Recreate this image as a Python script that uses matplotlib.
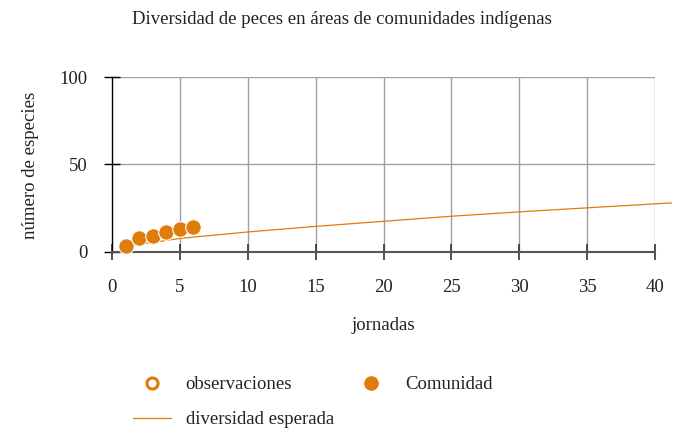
import matplotlib
matplotlib.use("Agg")
import matplotlib.pyplot as plt
from matplotlib.lines import Line2D

# Data
jornadas = [1, 2, 3, 4, 5, 6]
especies = [3, 8, 9, 11, 13, 14]
curva_x = [1, 5, 10, 15, 20, 25, 30, 35, 40, 41.2]
curva_y = [3.0, 7.6, 11.3, 14.5, 17.4, 20.3, 22.8, 25.1, 27.4, 27.9]
xticks = [0, 5, 10, 15, 20, 25, 30, 35, 40]
yticks = [0, 50, 100]

ORANGE = '#E07C0C'
plt.rcParams['font.family'] = ['Liberation Serif', 'DejaVu Serif']
FS = 13.5

fig = plt.figure(figsize=(6.9, 4.3), dpi=100)
ax = fig.add_axes([112/690, 1-251.7/430, (655-112)/690, (251.7-77)/430])
ax.set_xlim(0, 40)
ax.set_ylim(0, 100)

for s in ['top', 'right']:
    ax.spines[s].set_visible(False)
ax.spines['left'].set_color('black')
ax.spines['left'].set_linewidth(1.0)
ax.spines['bottom'].set_color('#555555')
ax.spines['bottom'].set_linewidth(1.5)

ax.set_xticks(xticks)
ax.set_yticks(yticks)
ax.tick_params(axis='x', direction='inout', length=11.5, width=1.2, color='#333333',
               labelsize=FS, pad=14, labelcolor='#222222')
ax.tick_params(axis='y', direction='inout', length=11.5, width=1.0, color='black',
               labelsize=FS, pad=12, labelcolor='#222222')

for x in xticks[1:]:
    ax.axvline(x, color='#a0a0a0', lw=1.0, zorder=0.5)
for y in yticks[1:]:
    ax.axhline(y, color='#a0a0a0', lw=1.0, zorder=0.5)

ax.plot(curva_x, curva_y, color=ORANGE, lw=0.9, clip_on=False, zorder=2)
ax.scatter(jornadas, especies, s=125, color=ORANGE, edgecolor='white',
           linewidth=0.8, zorder=3, clip_on=False)

fig.text(342/690, 1-19/430, 'Diversidad de peces en áreas de comunidades indígenas',
         ha='center', va='center', fontsize=FS, color='#222222')
fig.text(383/690, 1-326/430, 'jornadas', ha='center', va='center', fontsize=FS, color='#222222')
fig.text(31/690, 1-165/430, 'número de especies', ha='center', va='center', rotation=90,
         fontsize=FS, color='#222222')

handles = [
    Line2D([], [], ls='none', marker='o', markersize=8, markerfacecolor='white',
           markeredgecolor=ORANGE, markeredgewidth=2.2),
    Line2D([], [], color=ORANGE, lw=0.9),
    Line2D([], [], ls='none', marker='o', markersize=9.5, color=ORANGE),
]
labels = ['observaciones', 'diversidad esperada', 'Comunidad']
fig.legend(handles, labels, ncol=2, loc='upper left', bbox_to_anchor=(133/690, 1-376/430),
           frameon=False, fontsize=FS, handlelength=2.0, handletextpad=0.8,
           columnspacing=1.0, labelspacing=0.95, borderpad=0, borderaxespad=0,
           labelcolor='#222222')

fig.savefig('out.png', dpi=100)
